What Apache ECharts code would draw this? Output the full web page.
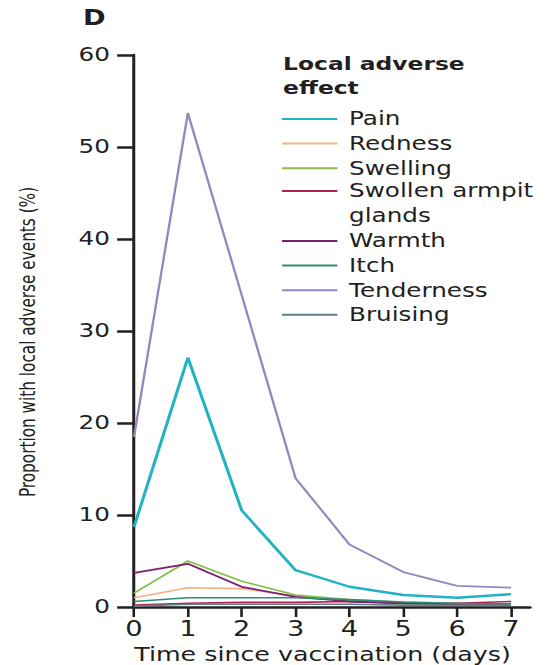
<!DOCTYPE html>
<html>
<head>
<meta charset="utf-8">
<script src="https://cdn.jsdelivr.net/npm/echarts@6/dist/echarts.min.js"></script>
<style>
  html, body { margin: 0; padding: 0; background: #fff; overflow: hidden; }
  /* The figure is laid out on a narrower canvas and widened horizontally */
  #chart { width: 422px; height: 665px; transform: scaleX(1.29858); transform-origin: 0 0; }
</style>
</head>
<body>
<div id="chart"></div>
<script>
// Days after vaccination
const days = [0, 1, 2, 3, 4, 5, 6, 7];

// Proportion of participants reporting each local adverse effect (%)
const pain        = [8.7, 27.1, 10.5, 4.0, 2.2, 1.3, 1.0, 1.4];
const redness     = [1.0, 2.1, 2.0, 1.2, 0.7, 0.5, 0.4, 0.3];
const swelling    = [1.5, 5.0, 2.8, 1.3, 0.8, 0.5, 0.3, 0.2];
const glands      = [0.2, 0.4, 0.5, 0.5, 0.6, 0.4, 0.4, 0.6];
const warmth      = [3.7, 4.7, 2.2, 1.1, 0.6, 0.4, 0.3, 0.3];
const itch        = [0.6, 1.0, 1.0, 1.0, 0.8, 0.55, 0.4, 0.3];
const tenderness  = [18.5, 53.7, 33.9, 14.0, 6.8, 3.8, 2.3, 2.1];
const bruising    = [0.1, 0.3, 0.3, 0.3, 0.3, 0.2, 0.2, 0.2];

// Y axis ticks
const yMin = 0, yMax = 60, yStep = 10;

const INK = '#231f20';
const FONT = 'DejaVu Sans';

const seriesDefs = [
  { name: 'Pain', values: pain, color: '#22b2c6', width: 2.4 },
  { name: 'Redness', values: redness, color: '#f3b27f', width: 1.6 },
  { name: 'Swelling', values: swelling, color: '#86bf4a', width: 1.6 },
  { name: 'Swollen armpit glands', values: glands, color: '#b0224e', width: 1.6 },
  { name: 'Warmth', values: warmth, color: '#7c2071', width: 1.8 },
  { name: 'Itch', values: itch, color: '#2e8f74', width: 1.6 },
  { name: 'Tenderness', values: tenderness, color: '#9686bf', width: 1.8 },
  { name: 'Bruising', values: bruising, color: '#5f7f86', width: 1.6 }
];

const chart = echarts.init(document.getElementById('chart'), null, { renderer: 'svg' });

const ROW = 24.6;      // legend row pitch
const KEY_W = 42.6;    // legend key length
const legendText = {
  fontFamily: FONT, fontSize: 19, color: INK, lineHeight: ROW, padding: [0, 0, 0, 4]
};
const legendCommon = {
  orient: 'vertical', left: 217.2, padding: 0, itemGap: 0,
  icon: 'rect', itemWidth: KEY_W, itemHeight: 2, selectedMode: false,
  textStyle: legendText,
  formatter: n => n === 'Swollen armpit glands' ? 'Swollen armpit\nglands' : n
};
// Key for the two-line entry: a bar at the top of a taller box (the tiny
// second sub-path only stretches the box) so the bar sits level with line one.
const tallKeyH = ROW + 2;
const tallKey = 'path://M0,0H' + KEY_W + 'V2H0Z M0,' + (tallKeyH - 0.01) +
                'H0.01V' + tallKeyH + 'H0Z';

chart.setOption({
  animation: false,
  backgroundColor: '#fff',
  title: [
    { text: 'D', left: 64, top: 7, padding: 0,
      textStyle: { fontFamily: FONT, fontWeight: 'bold', fontSize: 21, color: INK } },
    { text: 'Local adverse\neffect', left: 218, top: 52, padding: 0,
      textStyle: { fontFamily: FONT, fontWeight: 'bold', fontSize: 18, lineHeight: 24, color: INK } }
  ],
  legend: [
    Object.assign({}, legendCommon, { top: 119 - ROW / 2, data: ['Pain', 'Redness', 'Swelling'] }),
    Object.assign({}, legendCommon, {
      top: 191 - ROW / 2, icon: tallKey, itemHeight: tallKeyH,
      data: ['Swollen armpit glands']
    }),
    Object.assign({}, legendCommon, {
      top: 241 - ROW / 2, data: ['Warmth', 'Itch', 'Tenderness', 'Bruising']
    })
  ],
  grid: [
    { left: 103.2, top: 55, width: 290.3, height: 552, outerBoundsMode: 'none' },
    { left: 103.2, top: 55, width: 304.9, height: 552, outerBoundsMode: 'none' }
  ],
  xAxis: [
    {
      type: 'value', gridIndex: 0, min: 0, max: 7, interval: 1,
      name: 'Time since vaccination (days)', nameLocation: 'middle', nameGap: 33,
      nameTextStyle: { fontFamily: FONT, fontSize: 19.5, color: INK },
      axisLine: { show: false },
      axisTick: { show: true, length: 10, lineStyle: { color: INK, width: 2 } },
      axisLabel: { fontFamily: FONT, fontSize: 21, color: INK, margin: 11 },
      splitLine: { show: false }
    },
    {
      type: 'value', gridIndex: 1, min: 0, max: 1,
      axisLine: { show: true, onZero: false, lineStyle: { color: INK, width: 2.6 } },
      axisTick: { show: false }, axisLabel: { show: false }, splitLine: { show: false }
    }
  ],
  yAxis: [
    {
      type: 'value', gridIndex: 0, min: yMin, max: yMax, interval: yStep,
      name: 'Proportion with local adverse events (%)', nameLocation: 'middle', nameGap: 73,
      nameRotate: 90,
      nameTextStyle: { fontFamily: 'Liberation Sans Narrow, DejaVu Sans Condensed, sans-serif',
                       fontSize: 17, color: INK, padding: [0, 22, 0, 0] },
      axisLine: { show: true, lineStyle: { color: INK, width: 2.3 } },
      axisTick: { show: true, length: 13, lineStyle: { color: INK, width: 2.5 } },
      axisLabel: { fontFamily: FONT, fontSize: 19, color: INK, margin: 18.5 },
      splitLine: { show: false }
    },
    {
      type: 'value', gridIndex: 1, show: false
    }
  ],
  series: seriesDefs.map(s => ({
    name: s.name,
    type: 'line',
    xAxisIndex: 0, yAxisIndex: 0,
    data: days.map((d, i) => [d, s.values[i]]),
    symbol: 'none',
    color: s.color,
    lineStyle: { color: s.color, width: s.width },
    z: 3
  }))
});
</script>
</body>
</html>
